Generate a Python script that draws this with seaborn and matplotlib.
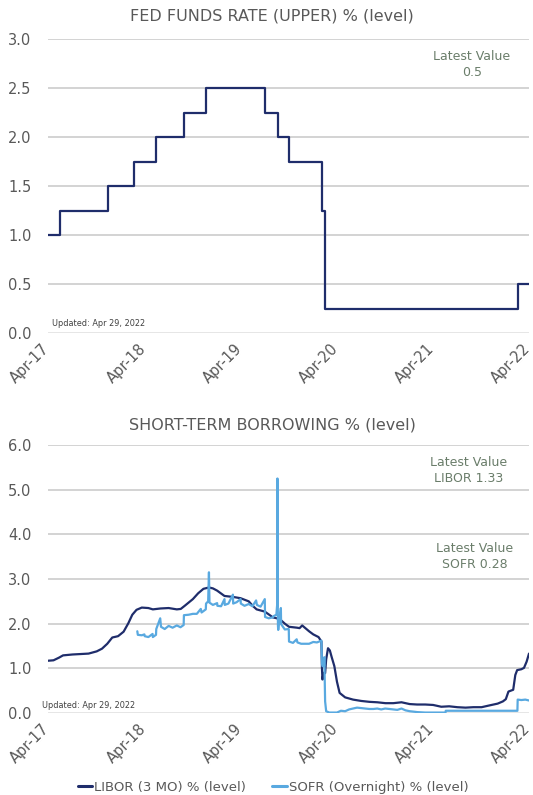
import matplotlib
matplotlib.use("Agg")
import matplotlib.pyplot as plt
import matplotlib.transforms as mtransforms
import seaborn as sns
import pandas as pd

# ---------------- data ----------------
fed_dates = ["2017-04-29", "2017-06-15", "2017-12-14", "2018-03-22", "2018-06-14",
             "2018-09-27", "2018-12-20", "2019-08-01", "2019-09-19", "2019-10-31",
             "2020-03-04", "2020-03-16", "2022-03-17", "2022-04-29"]
fed_vals = [1.00, 1.25, 1.50, 1.75, 2.00, 2.25, 2.50, 2.25, 2.00, 1.75, 1.25, 0.25, 0.50, 0.50]

libor_dates = ["2017-04-29", "2017-05-20", "2017-06-10", "2017-06-25", "2017-07-31", "2017-08-31",
               "2017-09-30", "2017-10-31", "2017-11-20", "2017-12-10", "2017-12-29", "2018-01-20",
               "2018-02-10", "2018-02-28", "2018-03-15", "2018-03-31", "2018-04-20", "2018-05-15",
               "2018-06-01", "2018-06-30", "2018-07-31", "2018-08-31", "2018-09-15", "2018-09-30",
               "2018-10-31", "2018-11-20", "2018-12-10", "2018-12-31", "2019-01-15", "2019-01-31",
               "2019-02-28", "2019-03-31", "2019-04-30", "2019-05-31", "2019-06-15", "2019-06-30",
               "2019-07-31", "2019-08-31", "2019-09-15", "2019-09-30", "2019-10-15", "2019-10-31",
               "2019-11-30", "2019-12-10", "2019-12-20", "2020-01-15", "2020-01-31", "2020-02-20",
               "2020-03-02", "2020-03-04", "2020-03-06", "2020-03-10", "2020-03-16", "2020-03-20",
               "2020-03-27", "2020-04-03", "2020-04-10", "2020-04-20", "2020-04-30", "2020-05-10",
               "2020-05-31", "2020-06-30", "2020-07-31", "2020-08-31", "2020-09-30", "2020-10-31",
               "2020-11-30", "2020-12-31", "2021-01-31", "2021-02-28", "2021-03-31", "2021-04-30",
               "2021-05-31", "2021-06-30", "2021-07-31", "2021-08-31", "2021-09-30", "2021-10-31",
               "2021-11-30", "2021-12-31", "2022-01-20", "2022-01-31", "2022-02-10", "2022-02-28",
               "2022-03-08", "2022-03-15", "2022-03-31", "2022-04-10", "2022-04-20", "2022-04-29"]
libor_vals = [1.17, 1.18, 1.24, 1.29, 1.31, 1.32,
              1.33, 1.38, 1.44, 1.55, 1.69, 1.72,
              1.82, 2.01, 2.20, 2.31, 2.36, 2.35,
              2.32, 2.34, 2.35, 2.32, 2.33, 2.40,
              2.55, 2.68, 2.78, 2.81, 2.79, 2.74,
              2.62, 2.60, 2.57, 2.50, 2.40, 2.32,
              2.27, 2.14, 2.12, 2.08, 2.00, 1.93,
              1.91, 1.90, 1.96, 1.83, 1.76, 1.70,
              1.60, 1.00, 0.75, 0.90, 0.89, 1.20,
              1.45, 1.40, 1.25, 1.05, 0.70, 0.45,
              0.35, 0.30, 0.27, 0.25, 0.24, 0.22,
              0.22, 0.24, 0.20, 0.19, 0.19, 0.18,
              0.14, 0.15, 0.13, 0.12, 0.13, 0.13,
              0.17, 0.21, 0.26, 0.31, 0.48, 0.52,
              0.85, 0.96, 0.98, 1.01, 1.15, 1.33]

sofr_dates = ["2018-04-03", "2018-04-05", "2018-04-20", "2018-04-30", "2018-05-01", "2018-05-15",
              "2018-05-31", "2018-06-01", "2018-06-13", "2018-06-14", "2018-06-29", "2018-07-02",
              "2018-07-16", "2018-07-31", "2018-08-15", "2018-08-31", "2018-09-14", "2018-09-26",
              "2018-09-27", "2018-10-15", "2018-10-31", "2018-11-15", "2018-11-30", "2018-12-03",
              "2018-12-19", "2018-12-20", "2018-12-28", "2018-12-31", "2019-01-02", "2019-01-15",
              "2019-01-31", "2019-02-01", "2019-02-15", "2019-02-28", "2019-03-01", "2019-03-15",
              "2019-04-01", "2019-04-02", "2019-04-15", "2019-04-30", "2019-05-01", "2019-05-15",
              "2019-05-31", "2019-06-14", "2019-06-28", "2019-07-01", "2019-07-15", "2019-07-31",
              "2019-08-01", "2019-08-15", "2019-08-30", "2019-09-03", "2019-09-13", "2019-09-16",
              "2019-09-17", "2019-09-18", "2019-09-19", "2019-09-20", "2019-09-30", "2019-10-01",
              "2019-10-15", "2019-10-30", "2019-10-31", "2019-11-15", "2019-11-29", "2019-12-02",
              "2019-12-16", "2019-12-31", "2020-01-15", "2020-01-31", "2020-02-14", "2020-03-02",
              "2020-03-04", "2020-03-06", "2020-03-12", "2020-03-13", "2020-03-16", "2020-03-20",
              "2020-04-01", "2020-04-30", "2020-05-15", "2020-05-31", "2020-06-15", "2020-06-30",
              "2020-07-15", "2020-07-31", "2020-08-15", "2020-08-31", "2020-09-15", "2020-09-30",
              "2020-10-15", "2020-10-30", "2020-11-15", "2020-11-30", "2020-12-15", "2020-12-31",
              "2021-01-15", "2021-01-31", "2021-02-15", "2021-03-01", "2021-03-31", "2021-04-30",
              "2021-05-31", "2021-06-16", "2021-06-17", "2021-07-15", "2021-08-31", "2021-09-30",
              "2021-10-31", "2021-11-30", "2021-12-31", "2022-01-31", "2022-02-28", "2022-03-16",
              "2022-03-17", "2022-03-31", "2022-04-15", "2022-04-29"]
sofr_vals = [1.83, 1.75, 1.74, 1.76, 1.72, 1.70,
             1.77, 1.70, 1.75, 1.88, 2.12, 1.93,
             1.88, 1.95, 1.91, 1.96, 1.92, 1.97,
             2.19, 2.20, 2.22, 2.22, 2.33, 2.25,
             2.32, 2.45, 2.50, 3.15, 2.47, 2.42,
             2.46, 2.40, 2.39, 2.55, 2.42, 2.45,
             2.65, 2.45, 2.48, 2.55, 2.45, 2.40,
             2.44, 2.39, 2.52, 2.42, 2.38, 2.55,
             2.15, 2.12, 2.14, 2.17, 2.20, 2.43,
             5.25, 2.55, 1.95, 1.86, 2.35, 1.99,
             1.87, 1.88, 1.60, 1.57, 1.65, 1.58,
             1.55, 1.55, 1.55, 1.59, 1.58, 1.62,
             1.10, 1.05, 1.05, 1.25, 0.26, 0.04,
             0.01, 0.01, 0.05, 0.04, 0.08, 0.10,
             0.12, 0.11, 0.10, 0.09, 0.09, 0.10,
             0.08, 0.10, 0.09, 0.08, 0.07, 0.10,
             0.06, 0.04, 0.03, 0.02, 0.01, 0.01,
             0.01, 0.01, 0.05, 0.05, 0.05, 0.05,
             0.05, 0.05, 0.05, 0.05, 0.05, 0.05,
             0.30, 0.29, 0.30, 0.28]

x_ticks = ["2017-04-29", "2018-04-29", "2019-04-29", "2020-04-29", "2021-04-29", "2022-04-29"]
x_labels = ["Apr-17", "Apr-18", "Apr-19", "Apr-20", "Apr-21", "Apr-22"]

# ---------------- styling ----------------
sns.set_theme(style="white")
plt.rcParams['font.family'] = ['DejaVu Sans']

TXT = "#595959"
GRID = "#c8c8c8"
NAVY = "#1f2d6b"
LBLUE = "#59a9e0"
GREEN = "#6a7d6a"

fed_df = pd.DataFrame({"date": pd.to_datetime(fed_dates), "value": fed_vals})
libor_df = pd.DataFrame({"date": pd.to_datetime(libor_dates), "value": libor_vals,
                         "series": "LIBOR (3 MO) % (level)"})
sofr_df = pd.DataFrame({"date": pd.to_datetime(sofr_dates), "value": sofr_vals,
                        "series": "SOFR (Overnight) % (level)"})
short_df = pd.concat([libor_df, sofr_df], ignore_index=True)

fig = plt.figure(figsize=(5.33, 7.95), dpi=100)
ax1 = fig.add_axes([48/533, 1-333/795, (529-48)/533, (333-39)/795])
ax2 = fig.add_axes([48/533, 1-713/795, (529-48)/533, (713-445)/795])

xmin = pd.Timestamp("2017-04-29")
xmax = pd.Timestamp("2022-04-29")


def style_axis(ax, ymax, yticks):
    ax.set_xlim(xmin, xmax)
    ax.set_ylim(0, ymax)
    ax.set_yticks(yticks)
    ax.set_yticklabels([f"{v:.1f}" for v in yticks], color=TXT, fontsize=10.5)
    for v in yticks:
        if v == 0:
            ax.axhline(v, color="#e4e4e4", lw=1.3, zorder=0)
        else:
            ax.axhline(v, color=GRID, lw=1.1, zorder=0)
    for s in ax.spines.values():
        s.set_visible(False)
    ax.set_xticks(pd.to_datetime(x_ticks))
    ax.set_xticklabels(x_labels, rotation=45, ha="right", rotation_mode="anchor",
                       color=TXT, fontsize=10.5)
    ax.tick_params(axis="both", length=0)
    ax.tick_params(axis="y", pad=12)
    ax.tick_params(axis="x", pad=6)
    off = mtransforms.ScaledTranslation(-6/100, 0, fig.dpi_scale_trans)
    for lab in ax.get_xticklabels():
        lab.set_transform(lab.get_transform() + off)
    ax.set_xlabel("")
    ax.set_ylabel("")


# top chart
sns.lineplot(data=fed_df, x="date", y="value", ax=ax1, color=NAVY, lw=1.6,
             drawstyle="steps-post", legend=False)
style_axis(ax1, 3.0, [0.0, 0.5, 1.0, 1.5, 2.0, 2.5, 3.0])
fig.text(272/533, 1-16/795, "FED FUNDS RATE (UPPER) % (level)", ha="center", va="center",
         color=TXT, fontsize=11.5)
ax1.text(472/533, 1-57/795, "Latest Value", transform=fig.transFigure, ha="center",
         va="center", color=GREEN, fontsize=9)
ax1.text(472/533, 1-73/795, "0.5", transform=fig.transFigure, ha="center",
         va="center", color=GREEN, fontsize=9)
ax1.text(52/533, 1-323/795, "Updated: Apr 29, 2022", transform=fig.transFigure,
         ha="left", va="center", color="#404040", fontsize=5.9)

# bottom chart
sns.lineplot(data=short_df, x="date", y="value", hue="series", ax=ax2,
             palette=[NAVY, LBLUE], lw=1.6, legend=True)
style_axis(ax2, 6.0, [0.0, 1.0, 2.0, 3.0, 4.0, 5.0, 6.0])
fig.text(272/533, 1-425/795, "SHORT-TERM BORROWING % (level)", ha="center", va="center",
         color=TXT, fontsize=11.5)
for (x, y, s) in [(469, 463, "Latest Value"), (469, 479, "LIBOR 1.33"),
                  (475, 548, "Latest Value"), (475, 564, "SOFR 0.28")]:
    ax2.text(x/533, 1-y/795, s, transform=fig.transFigure, ha="center", va="center",
             color=GREEN, fontsize=9)
ax2.text(42/533, 1-705/795, "Updated: Apr 29, 2022", transform=fig.transFigure,
         ha="left", va="center", color="#404040", fontsize=5.9)

handles, labels = ax2.get_legend_handles_labels()
for h in handles:
    h.set_linewidth(2.2)
ax2.legend(handles, labels, loc="center", bbox_to_anchor=(273/533, 1-787/795),
           bbox_transform=fig.transFigure, ncol=2, frameon=False, fontsize=9.5,
           handlelength=1.1, handletextpad=0.15, columnspacing=2.0, labelcolor=TXT)

fig.savefig("out.png", dpi=100)
